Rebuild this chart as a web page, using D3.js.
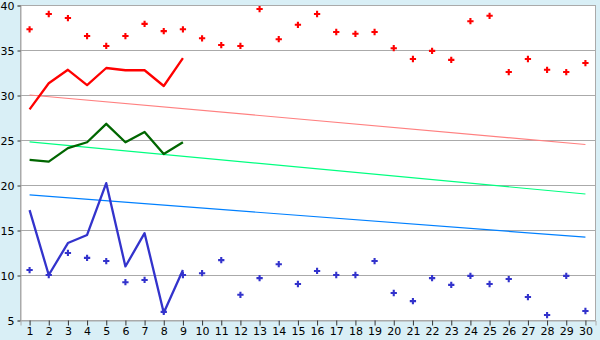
<!DOCTYPE html>
<html>
<head>
<meta charset="utf-8">
<script src="https://cdn.jsdelivr.net/npm/d3@7"></script>
<style>
  body { margin: 0; background: #d9eff6; }
  svg { display: block; }
</style>
</head>
<body>
<svg id="chart"></svg>
<script>
// chart data
const categories = d3.range(1, 31).map(String);
const yTicks = [5, 10, 15, 20, 25, 30, 35, 40];

const redPoints = [37.3, 39.0, 38.55, 36.55, 35.45, 36.55, 37.9, 37.1, 37.3, 36.3,
  35.55, 35.45, 39.55, 36.2, 37.8, 39.0, 37.0, 36.8, 37.0, 35.2,
  34.0, 34.9, 33.9, 38.2, 38.8, 32.55, 34.0, 32.8, 32.55, 33.55];
const bluePoints = [10.55, 10.0, 12.45, 11.9, 11.55, 9.2, 9.45, 5.9, 10.0, 10.2,
  11.65, 7.8, 9.65, 11.2, 9.0, 10.45, 10.0, 10.0, 11.55, 8.0,
  7.1, 9.65, 8.9, 9.9, 9.0, 9.55, 7.55, 5.55, 9.9, 6.0];

const redLine = [28.4, 31.3, 32.8, 31.1, 33.0, 32.75, 32.75, 31.0, 34.1];
const greenLine = [22.8, 22.6, 24.1, 24.75, 26.8, 24.75, 25.9, 23.45, 24.75];
const blueLine = [17.2, 10.0, 13.55, 14.45, 20.2, 10.95, 14.65, 5.8, 10.55];

// trend lines: value at first and last category
const trendRed = [30.0, 24.5];
const trendGreen = [24.8, 19.0];
const trendBlue = [18.9, 14.2];

const width = 600, height = 340;
const margin = { top: 5, right: 5, bottom: 20, left: 20 };

const svg = d3.select("#chart").attr("width", width).attr("height", height);

const x = d3.scaleBand()
  .domain(categories)
  .range([margin.left, width - margin.right]);
const y = d3.scaleLinear()
  .domain([5, 40])
  .range([height - margin.bottom, margin.top]);
const cx = c => x(c) + x.bandwidth() / 2;

// plot background
svg.append("rect")
  .attr("x", margin.left + 0.5).attr("y", margin.top + 0.5)
  .attr("width", width - margin.left - margin.right)
  .attr("height", height - margin.top - margin.bottom)
  .attr("fill", "#fff")
  .attr("stroke", "#aaa");

// grid
svg.append("g")
  .selectAll("line")
  .data(yTicks)
  .join("line")
  .attr("x1", margin.left).attr("x2", width - margin.right)
  .attr("y1", d => Math.round(y(d)) + 0.5).attr("y2", d => Math.round(y(d)) + 0.5)
  .attr("stroke", "#aaa");

// axes
const yAxis = svg.append("g")
  .attr("transform", `translate(${margin.left + 0.5},0.5)`)
  .call(d3.axisLeft(y).tickValues(yTicks).tickSize(3).tickPadding(3));
const xAxis = svg.append("g")
  .attr("transform", `translate(0.5,${height - margin.bottom + 0.5})`)
  .call(d3.axisBottom(x).tickSize(5).tickPadding(2));
[yAxis, xAxis].forEach(a => {
  a.select(".domain").attr("stroke", "#aaa");
  a.selectAll(".tick line").attr("stroke", "#333");
  a.selectAll("text")
    .attr("fill", "#000")
    .style("font-family", "DejaVu Sans, Verdana, sans-serif")
    .style("font-size", "11px");
});

// trend lines
const trends = [
  { v: trendRed, color: "#ff8080" },
  { v: trendGreen, color: "#00ff80" },
  { v: trendBlue, color: "#0080ff" }
];
svg.append("g")
  .selectAll("line")
  .data(trends)
  .join("line")
  .attr("x1", cx(categories[0]))
  .attr("x2", cx(categories[categories.length - 1]))
  .attr("y1", d => y(d.v[0]))
  .attr("y2", d => y(d.v[1]))
  .attr("stroke", d => d.color)
  .attr("stroke-width", 1.2);

// series lines
const line = d3.line()
  .x((d, i) => cx(categories[i]))
  .y(d => y(d));
[
  { v: redLine, color: "#ff0000" },
  { v: greenLine, color: "#006600" },
  { v: blueLine, color: "#3333cc" }
].forEach(s => {
  svg.append("path")
    .datum(s.v)
    .attr("d", line)
    .attr("fill", "none")
    .attr("stroke", s.color)
    .attr("stroke-width", 2.3)
    .attr("stroke-linejoin", "round");
});

// markers
const cross = d3.symbol().type(d3.symbolCross).size(22);
[
  { v: redPoints, color: "#ff0000" },
  { v: bluePoints, color: "#3333cc" }
].forEach(s => {
  svg.append("g")
    .selectAll("path")
    .data(s.v)
    .join("path")
    .attr("d", cross)
    .attr("transform", (d, i) => `translate(${cx(categories[i])},${y(d)})`)
    .attr("fill", s.color);
});
</script>
</body>
</html>
